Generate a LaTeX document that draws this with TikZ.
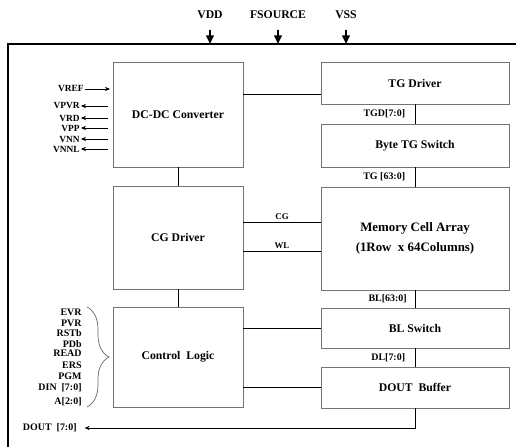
\documentclass[tikz,border=0pt]{standalone}
\usepackage{fontspec}
\setmainfont{Liberation Serif}
\usetikzlibrary{arrows.meta,calc,decorations.pathreplacing}

\begin{document}
\begin{tikzpicture}[x=0.03cm,y=-0.03cm,>={Stealth[length=1.5mm,width=1.3mm]},
  blk/.style={draw=black!55,line width=0.6pt,inner sep=0pt,align=center,
    font=\fontsize{10}{12}\selectfont\bfseries},
  wire/.style={line width=0.7pt},
  pwr/.style={line width=1.4pt,-{Triangle[length=2.6mm,width=2.3mm]},shorten <=0.28cm},
  top/.style={inner sep=1pt,font=\fontsize{10}{12}\selectfont\bfseries},
  lbl/.style={inner sep=1pt,font=\fontsize{8.5}{10}\selectfont\bfseries},
  pin/.style={inner sep=1pt,font=\fontsize{8}{9}\selectfont\bfseries},
  ctl/.style={inner sep=1pt,font=\fontsize{8.5}{10}\selectfont\bfseries}]
  \useasboundingbox (0,0) rectangle (516,447);
  \draw[line width=1.5pt] (8,447) -- (8,44) -- (516,44);

  \node[top] (vdd) at (210,15) {VDD};
  \node[top] (fsrc) at (278,15) {FSOURCE};
  \node[top] (vss) at (346,15) {VSS};
  \coordinate (vddin) at (210,44);
  \coordinate (fsrcin) at (278,44);
  \coordinate (vssin) at (346,44);
  \draw[pwr] (vdd) -- (vddin);
  \draw[pwr] (fsrc) -- (fsrcin);
  \draw[pwr] (vss) -- (vssin);

  \node[blk,minimum width=3.9cm,minimum height=3.15cm] (dcdc) at (178,114.5) {DC-DC Converter};
  \node[blk,minimum width=3.9cm,minimum height=3.09cm] (cgdrv) at (178,237.5) {CG Driver};
  \node[blk,minimum width=3.9cm,minimum height=3cm] (ctrl) at (178,357) {Control~~Logic};
  \node[blk,minimum width=5.64cm,minimum height=1.26cm] (tgdrv) at (415,83) {TG Driver};
  \node[blk,minimum width=5.64cm,minimum height=1.29cm] (bytetg) at (415,145.5) {Byte TG Switch};
  \node[blk,minimum width=5.64cm,minimum height=3.09cm,font=\fontsize{11}{17}\selectfont\bfseries]
    (mem) at (415,238.5) {Memory Cell Array\\(1Row~~x~64Columns)};
  \node[blk,minimum width=5.64cm,minimum height=1.2cm] (blsw) at (415,328) {BL Switch};
  \node[blk,minimum width=5.64cm,minimum height=1.23cm] (dout) at (415,387.5) {DOUT~~Buffer};

  \coordinate (tgin) at ([yshift=-0.33cm]tgdrv.west);
  \coordinate (cgin) at ([yshift=0.47cm]mem.west);
  \coordinate (wlin) at ([yshift=-0.38cm]mem.west);
  \draw[wire] (dcdc.east |- tgin) -- (tgin);
  \draw[wire] (dcdc) -- (cgdrv);
  \draw[wire] (cgdrv) -- (ctrl);
  \draw[wire] (cgdrv.east |- cgin) -- node[lbl,above=1pt,font=\fontsize{7.5}{9}\selectfont\bfseries] (cg) {CG} (cgin);
  \draw[wire] (cgdrv.east |- wlin) -- node[lbl,above=1pt,font=\fontsize{7.5}{9}\selectfont\bfseries] (wl) {WL} (wlin);
  \draw[wire] (ctrl.east |- blsw.west) -- (blsw.west);
  \draw[wire] (ctrl.east |- dout.west) -- (dout.west);

  \draw[wire] (tgdrv) -- node[lbl,left=2.5mm] (tgd) {TGD[7:0]} (bytetg);
  \draw[wire] (bytetg) -- node[lbl,left=2.5mm] (tg) {TG [63:0]} (mem);
  \draw[wire] (mem) -- node[lbl,left=2mm] (bl) {BL[63:0]} (blsw);
  \draw[wire] (blsw) -- node[lbl,left=2.5mm] (dl) {DL[7:0]} (dout);

  \node[lbl,anchor=east] (doutpin) at (78,428) {DOUT~~[7:0]};
  \draw[wire,->,shorten >=0.2cm] (dout.south) |- (doutpin.east);

  \node[pin,anchor=east] (vref) at (85,89) {VREF};
  \draw[wire,->,shorten >=0.08cm] (vref) -- (dcdc.west |- vref);
  \foreach \n/\t/\y in {vpvr/VPVR/106,vrd/VRD/118,vpp/VPP/128,vnn/VNN/139,vnnl/VNNL/149}{
    \node[pin,anchor=east] (\n) at (81,\y) {\t};
    \draw[wire,->,shorten <=0.15cm] (dcdc.west |- \n) -- (\n);
  }

  \foreach \n/\t/\y in {evr/EVR/312,pvr/PVR/323,rstb/RSTb/333,pdb/PDb/344,read/READ/353,
      ers/ERS/365,pgm/PGM/376,din/DIN~~[7:0]/388,addr/A[2:0]/402}{
    \node[ctl,anchor=east] (\n) at (83,\y) {\t};
  }
  \draw[black!60,line width=0.6pt,decorate,decoration={brace,amplitude=0.66cm}] (87,307) -- (87,407);
\end{tikzpicture}
\end{document}
